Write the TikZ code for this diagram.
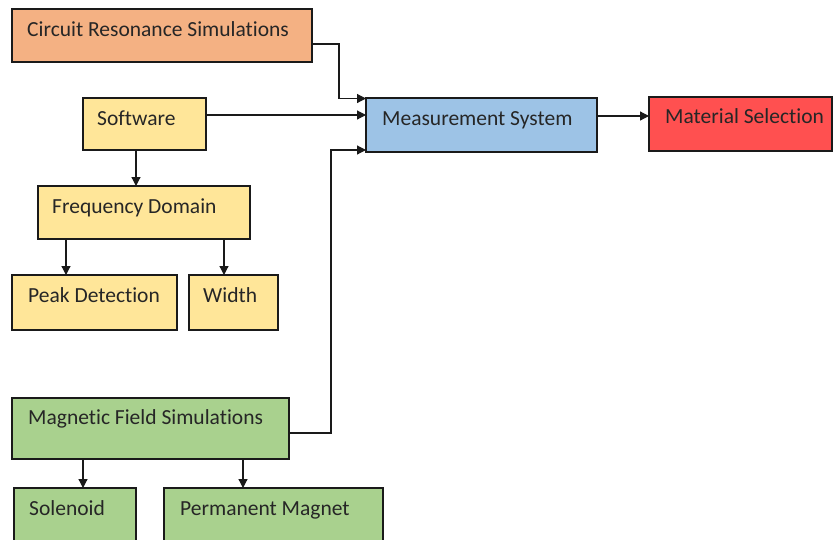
\documentclass[tikz,border=0pt]{standalone}
\usepackage{fontspec}
\setmainfont{Carlito}[Ligatures={NoCommon}]
\usetikzlibrary{arrows.meta,calc}
\definecolor{corange}{HTML}{F4B183}
\definecolor{cyellow}{HTML}{FFE699}
\definecolor{cblue}{HTML}{9DC3E6}
\definecolor{cred}{HTML}{FF5050}
\definecolor{cgreen}{HTML}{A9D18E}
\definecolor{ctext}{HTML}{262626}
\definecolor{cline}{HTML}{1A1A1A}
\begin{document}
\begin{tikzpicture}[x=1pt,y=-1pt,
  box/.style={draw=cline, line width=1.2pt, anchor=north west, inner sep=0pt, outer sep=0pt},
  txt/.style={anchor=base west, inner sep=0pt, text=ctext, font=\fontsize{21.5}{25}\selectfont},
  conn/.style={draw=cline, line width=1.2pt, -{Triangle[length=9pt,width=9pt]}},
  plain/.style={draw=cline, line width=1.2pt}]
\clip (0,0) rectangle (833,539);
% boxes
\node[box, fill=corange, minimum width=300, minimum height=53] (crs) at (12,9) {};
\node[txt] (crst) at ($(crs.north west)+(15,27)$) {Circuit Resonance Simulations};
\node[box, fill=cyellow, minimum width=123, minimum height=52] (sw) at (83,98) {};
\node[txt] (swt) at ($(sw.north west)+(14,27)$) {Software};
\node[box, fill=cblue, minimum width=231, minimum height=54] (ms) at (366,98) {};
\node[txt] (mst) at ($(ms.north west)+(16,27)$) {Measurement System};
\node[box, fill=cred, minimum width=183, minimum height=54] (mat) at (649,97) {};
\node[txt] (matt) at ($(mat.north west)+(16,26)$) {Material Selection};
\node[box, fill=cyellow, minimum width=212, minimum height=53] (fd) at (38,186) {};
\node[txt] (fdt) at ($(fd.north west)+(14,27)$) {Frequency Domain};
\node[box, fill=cyellow, minimum width=165, minimum height=55] (pd) at (12,275) {};
\node[txt] (pdt) at ($(pd.north west)+(16,27)$) {Peak Detection};
\node[box, fill=cyellow, minimum width=89, minimum height=55] (wd) at (189,275) {};
\node[txt] (wdt) at ($(wd.north west)+(14,27)$) {Width};
\node[box, fill=cgreen, minimum width=277, minimum height=61] (mf) at (12,398) {};
\node[txt] (mft) at ($(mf.north west)+(16,26)$) {Magnetic Field Simulations};
\node[box, fill=cgreen, minimum width=122, minimum height=70] (sol) at (14,488) {};
\node[txt] (solt) at ($(sol.north west)+(15,27)$) {Solenoid};
\node[box, fill=cgreen, minimum width=219, minimum height=70] (pm) at (164,488) {};
\node[txt] (pmt) at ($(pm.north west)+(16,27)$) {Permanent Magnet};
% connectors
\coordinate (c1) at ($(crs.north east)+(0,35)$);
\coordinate (c1b) at ($(ms.north west)+(0,0.5)$);
\draw[conn] (c1) -| ($(c1b)+(-27,0)$) -- (c1b);
\draw[conn] (sw.east |- {(0,115)}) -- (ms.west |- {(0,115)});
\coordinate (c3) at ($(mf.north west)+(277,35)$);
\coordinate (c3b) at ($(ms.south west)+(0,-2)$);
\draw[conn] (c3) -| ($(c3b)+(-35,0)$) -- (c3b);
\draw[conn] (ms.east |- {(0,116)}) -- (mat.west |- {(0,116)});
\draw[conn] (sw.south -| {(136,0)}) -- (fd.north -| {(136,0)});
\draw[conn] (fd.south -| {(66,0)}) -- (pd.north -| {(66,0)});
\draw[conn] (fd.south -| {(224,0)}) -- (wd.north -| {(224,0)});
\draw[conn] (mf.south -| {(83,0)}) -- (sol.north -| {(83,0)});
\draw[conn] (mf.south -| {(243,0)}) -- (pm.north -| {(243,0)});
\end{tikzpicture}
\end{document}
